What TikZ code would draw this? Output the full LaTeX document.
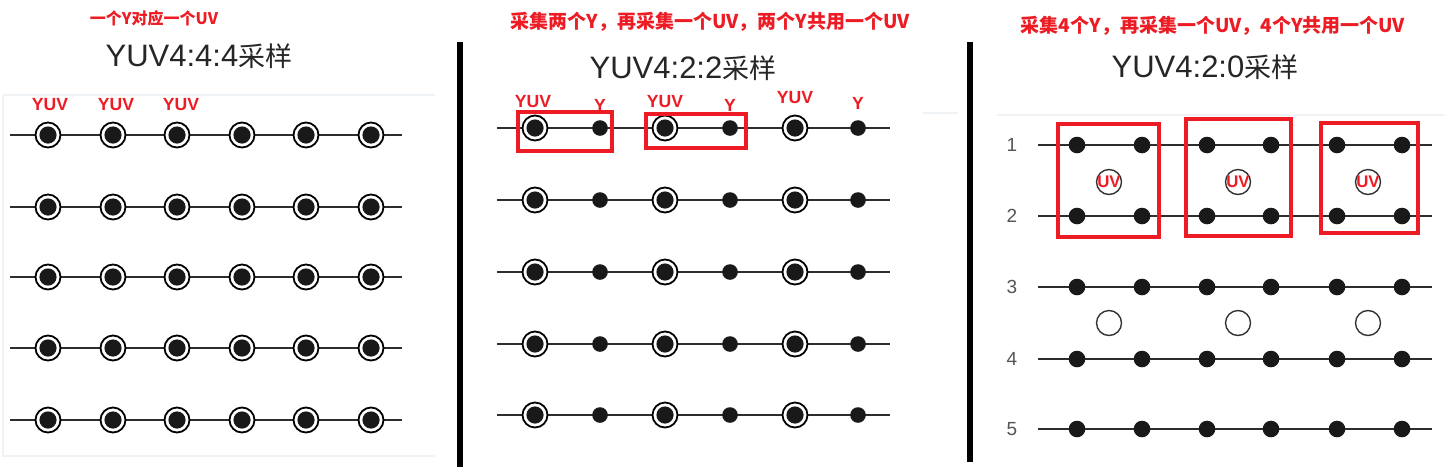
\documentclass[tikz,border=0pt]{standalone}
\usepackage{fontspec}
\setmainfont{Liberation Sans}
\newfontfamily\cjk{Noto Sans CJK SC}
\definecolor{redc}{RGB}{237,28,36}
\definecolor{linec}{RGB}{45,45,45}
\definecolor{numc}{RGB}{85,85,85}
\definecolor{panelc}{RGB}{240,243,246}
\tikzset{
  yuvdot/.style={circle, draw=black, line width=0.9pt, fill=white, minimum size=12.5pt, inner sep=0pt,
    path picture={\fill[black!90] (path picture bounding box.center) circle (4.3pt);}},
  ydot/.style={circle, fill=black!90, minimum size=7.8pt, inner sep=0pt},
  uvcirc/.style={circle, draw=black!80, line width=0.7pt, fill=white, minimum size=12.5pt, inner sep=0pt},
  rowline/.style={draw=linec, line width=0.75pt},
  redbox/.style={draw=redc, line width=2.2pt},
  redlbl/.style={text=redc, font=\cjk\bfseries\fontsize{9.5}{10}\selectfont, inner sep=0pt},
  redsmall/.style={text=redc, font=\cjk\bfseries\fontsize{8}{9}\selectfont, inner sep=0pt},
  yuvlbl/.style={text=redc, font=\bfseries\fontsize{8.8}{9}\selectfont, inner sep=0pt},
  uvlbl/.style={text=redc, font=\bfseries\fontsize{8.4}{9}\selectfont, inner sep=0pt},
  titlelbl/.style={text=black!85, font=\fontsize{15.5}{16}\selectfont, inner sep=0pt},
  numlbl/.style={text=numc, font=\fontsize{9.5}{10}\selectfont, inner sep=0pt},
  sepbar/.style={draw=black, line width=3pt},
  panel/.style={draw=panelc, line width=0.8pt}
}
\newcommand{\cjktitle}[1]{{\cjk\fontsize{13.5}{14}\selectfont #1}}
\begin{document}
\begin{tikzpicture}[x=0.5pt,y=-0.5pt]
\useasboundingbox (0,0) rectangle (1444,467);
\fill[white] (0,0) rectangle (1444,467);

% faint panel frames
\draw[panel] (4,95) -- (435,95);
\draw[panel] (3,95) -- (3,456) -- (435,456);
\draw[panel] (923,113) -- (958,113);
\draw[panel] (997,115) -- (1444,115);

% separators
\coordinate (s1a) at (460,42); \coordinate (s1b) at (460,467);
\coordinate (s2a) at (970,42); \coordinate (s2b) at (970,462);
\draw[sepbar] (s1a) -- (s1b);
\draw[sepbar] (s2a) -- (s2b);

% ---------- left panel: 4:4:4 ----------
\node[redsmall] (n444) at (154,18) {一个Y对应一个UV};
\node[titlelbl] (t444) at (199,56) {YUV4:4:4\cjktitle{采样}};
\foreach \x [count=\i] in {50,116,181} {\node[yuvlbl] (ly\i) at (\x,105) {YUV};}
\foreach \y [count=\r] in {135,207,277,348,420} {
  \coordinate (la\r) at (10,\y); \coordinate (lb\r) at (402,\y);
  \draw[rowline] (la\r) -- (lb\r);
  \foreach \x [count=\c] in {48,113,177,242,306,371} {\node[yuvdot] (L\r-\c) at (\x,\y) {};}
}

% ---------- middle panel: 4:2:2 ----------
\node[redlbl] (n422) at (710,22) {采集两个Y，再采集一个UV，两个Y共用一个UV};
\node[titlelbl] (t422) at (683,68) {YUV4:2:2\cjktitle{采样}};
\node[yuvlbl] (my1) at (533,102) {YUV};
\node[yuvlbl] (my2) at (600,105) {Y};
\node[yuvlbl] (my3) at (665,102) {YUV};
\node[yuvlbl] (my4) at (730,105) {Y};
\node[yuvlbl] (my5) at (795,98) {YUV};
\node[yuvlbl] (my6) at (858,103) {Y};
\foreach \y [count=\r] in {128,200,272,344,415} {
  \coordinate (ma\r) at (497,\y); \coordinate (mb\r) at (890,\y);
  \draw[rowline] (ma\r) -- (mb\r);
  \foreach \x [count=\c] in {535,665,795} {\node[yuvdot] (M\r-\c) at (\x,\y) {};}
  \foreach \x [count=\c] in {600,730,858} {\node[ydot] (Y\r-\c) at (\x,\y) {};}
}
\draw[redbox] (518,112) rectangle (612,151);
\draw[redbox] (646,114) rectangle (746,148);

% ---------- right panel: 4:2:0 ----------
\node[redlbl] (n420) at (1213,26) {采集4个Y，再采集一个UV，4个Y共用一个UV};
\node[titlelbl] (t420) at (1205,67) {YUV4:2:0\cjktitle{采样}};
\foreach \y [count=\r] in {145,216,287,359,429} {
  \node[numlbl] (num\r) at (1012,\y) {\r};
  \coordinate (ra\r) at (1038,\y); \coordinate (rb\r) at (1432,\y);
  \draw[rowline] (ra\r) -- (rb\r);
  \foreach \x [count=\c] in {1077,1142,1207,1271,1337,1402} {\node[ydot, minimum size=8.3pt] (R\r-\c) at (\x,\y) {};}
}
\foreach \x [count=\c] in {1109,1238,1368} {
  \node[uvcirc] (uvA\c) at (\x,182) {};
  \node[uvlbl] (uvT\c) at (\x,182) {UV};
  \node[uvcirc] (uvB\c) at (\x,323) {};
}
\draw[redbox] (1058,124) rectangle (1159,237);
\draw[redbox] (1186,119) rectangle (1291,236);
\draw[redbox] (1321,123) rectangle (1418,233);
\end{tikzpicture}
\end{document}
